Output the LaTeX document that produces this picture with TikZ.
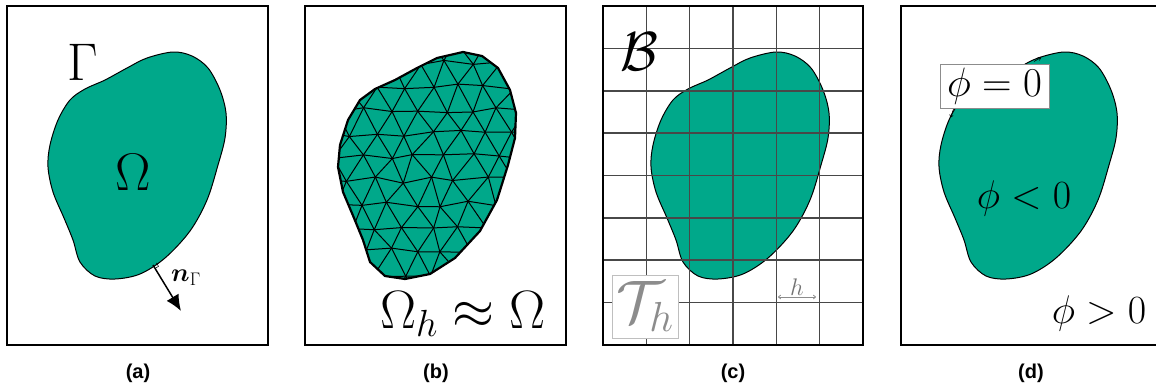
\RequirePackage{fix-cm}
\documentclass[tikz,border=0pt]{standalone}
\usepackage{amsmath}
\usepackage{fontspec}
\newfontfamily\lblfont{Liberation Sans}
\usetikzlibrary{arrows.meta}
\definecolor{domgreen}{RGB}{0,168,138}
\definecolor{gridgray}{RGB}{72,72,72}
\tikzset{
  frame/.style={draw=black, line width=2.2pt},
  blobstyle/.style={fill=domgreen, draw=black, line width=1pt},
  gridline/.style={draw=gridgray, line width=1.6pt},
  meshedge/.style={draw=black, line width=1pt},
  panellabel/.style={font=\lblfont\bfseries\fontsize{20}{24}\selectfont},
  bigmath/.style={inner sep=0pt, font=\fontsize{#1}{#1}\selectfont},
}
\newcommand\drawblob[1]{%
  \begin{scope}[xshift=#1pt]
    \filldraw[blobstyle] plot[smooth cycle, tension=0.55] coordinates {
      (173,52) (147,58) (127,68) (105,80) (85,89) (70,100) (58,120) (50,145)
      (48,167) (53,192) (64,218) (73,240) (80,262) (95,276) (115,279) (140,274)
      (165,258) (190,231) (207,200) (218,165) (225,138) (226,113) (220,90)
      (208,68) (192,56)};
  \end{scope}}
\newcommand\meshpoly{(463,52) -- (437,58) -- (417,68) -- (395,80) -- (375,89) -- (360,100) -- (348,120) -- (340,145) -- (338,167) -- (343,192) -- (354,218) -- (363,240) -- (370,262) -- (385,276) -- (405,279) -- (430,274) -- (455,258) -- (480,231) -- (497,200) -- (508,165) -- (515,138) -- (516,113) -- (510,90) -- (498,68) -- (482,56) -- cycle}
\begin{document}
\begin{tikzpicture}[x=1pt, y=-1pt]
\clip (0,0) rectangle (1156,391);
\useasboundingbox (0,0) rectangle (1156,391);

% ---------------- panel (a)
\drawblob{0}
\draw[frame] (7,6) rectangle (268,345);
\node[bigmath=53] (gam) at (83,62) {$\Gamma$};
\node[bigmath=53] (om) at (133,172) {$\Omega$};
\coordinate (np) at (153,265);
\coordinate (ne) at (181,311);
\draw[line width=1.5pt, -{Latex[length=16pt,width=14pt]}] (np) -- (ne);
\draw[line width=0.5pt] (155.1,268.4) -- (158.5,266.3) -- (156.4,262.9);
\node[bigmath=26] (nlab) at (186,278) {$\boldsymbol{n}_\Gamma$};
\node[panellabel] (la) at (138,373) {(a)};

% ---------------- panel (b)
\fill[domgreen] \meshpoly;
\begin{scope}
  \clip \meshpoly;
  \pgfmathsetseed{11}
  \foreach \j in {0,...,11}{
    \foreach \i in {0,...,9}{
      \pgfmathsetmacro{\xx}{322 + \i*27 + mod(\j,2)*13.5 + 4.5*rand}
      \pgfmathsetmacro{\yy}{40 + \j*23.4 + 3.5*rand}
      \coordinate (m-\i-\j) at (\xx,\yy);
    }
  }
  \foreach \j in {0,...,11}{
    \foreach \i in {0,...,8}{
      \pgfmathtruncatemacro{\ip}{\i+1}
      \draw[meshedge] (m-\i-\j) -- (m-\ip-\j);
    }
  }
  \foreach \j in {0,...,10}{
    \pgfmathtruncatemacro{\jp}{\j+1}
    \foreach \i in {0,...,9}{
      \pgfmathtruncatemacro{\ip}{\i+1}
      \pgfmathtruncatemacro{\im}{\i-1}
      \draw[meshedge] (m-\i-\j) -- (m-\i-\jp);
      \ifodd\j
        \ifnum\i<9 \draw[meshedge] (m-\i-\j) -- (m-\ip-\jp); \fi
      \else
        \ifnum\i>0 \draw[meshedge] (m-\i-\j) -- (m-\im-\jp); \fi
      \fi
    }
  }
\end{scope}
\draw[line width=2.2pt, line join=round] \meshpoly;
\draw[frame] (305,6) rectangle (566,345);
\node[bigmath=54, anchor=base] (omh) at (463,328) {$\Omega_h \approx \Omega$};
\node[panellabel] (lb) at (436,373) {(b)};

% ---------------- panel (c)
\drawblob{603}
\foreach \k in {1,...,5}{
  \draw[gridline] ({603+\k*43.33},6) -- ({603+\k*43.33},345);
}
\foreach \k in {1,...,7}{
  \draw[gridline] (603,{6+\k*42.375}) -- (863,{6+\k*42.375});
}
\draw[frame] (603,6) rectangle (863,345);
\node[bigmath=55] (calb) at (639,52) {$\mathcal{B}$};
\node[draw=black!25, line width=0.8pt, fill=white, text=black!45, minimum width=66pt, minimum height=63pt, inner sep=0pt, font=\fontsize{60}{60}\selectfont] (th) at (645,306.5) {$\mathcal{T}_h$};
\coordinate (hl) at (778,297);
\coordinate (hr) at (816,297);
\draw[draw=black!45, line width=0.8pt, {To[length=3pt,width=4.5pt]}-{To[length=3pt,width=4.5pt]}] (hl) -- (hr);
\node[bigmath=24, text=black!55] (hlab) at (797,287) {$h$};
\node[panellabel] (lc) at (733,373) {(c)};

% ---------------- panel (d)
\drawblob{891}
\draw[line width=0.6pt, -{To[length=3pt,width=4pt]}] (1034,61.5) -- (1041,57.5);
\draw[line width=0.6pt, -{To[length=3pt,width=4pt]}] (953.5,109) -- (950.5,117.5);
\node[draw=black!45, line width=0.8pt, fill=white, minimum width=109pt, minimum height=44pt, inner sep=0pt, font=\fontsize{41}{41}\selectfont] (phz) at (994.5,86) {$\phi = 0$};
\node[bigmath=40] (phn) at (1024,198) {$\phi < 0$};
\node[bigmath=40] (php) at (1099,313) {$\phi > 0$};
\draw[frame] (901,6) rectangle (1170,345);
\node[panellabel] (ld) at (1031,373) {(d)};
\end{tikzpicture}
\end{document}
